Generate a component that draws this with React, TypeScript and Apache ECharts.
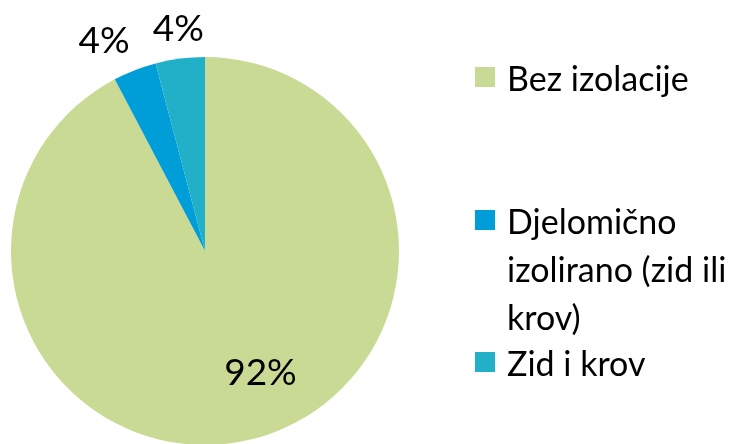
import React, { useEffect, useRef } from "react";
import * as echarts from "echarts";

const categories = ["Bez izolacije", "Djelomično izolirano (zid ili krov)", "Zid i krov"];
const legendTexts = ["Bez izolacije", "\n\nDjelomično\nizolirano (zid ili\nkrov)", "Zid i krov"];
const values = [92.3, 3.6, 4.1];
const percentLabels = ["92%", "4%", "4%"];
const colors = ["#C9DA95", "#009ED8", "#21B0C8"];

const FONT = "Lato";
const CX = 205;
const CY = 251;
const R = 194;

export default function App() {
  const ref = useRef<HTMLDivElement>(null);
  useEffect(() => {
    if (!ref.current) return;
    const chart = echarts.init(ref.current, null, { renderer: "svg" });
    const total = values.reduce((a, b) => a + b, 0);
    const mids: number[] = [];
    let acc = 0;
    values.forEach((v) => {
      const start = 90 - (acc / total) * 360;
      acc += v;
      const end = 90 - (acc / total) * 360;
      mids.push(((start + end) / 2) * (Math.PI / 180));
    });

    const legendTops = [53, 100, 338];
    const legends = categories.map((c, i) => ({
      data: [c],
      left: 475,
      top: legendTops[i],
      orient: "vertical" as const,
      padding: 0,
      icon: "rect",
      itemWidth: 20,
      itemHeight: 20,
      selectedMode: false,
      formatter: () => legendTexts[i],
      textStyle: {
        fontFamily: FONT,
        fontSize: 34,
        color: "#000",
        lineHeight: 48,
        padding: [0, 0, 0, 7],
      },
    }));

    chart.setOption({
      animation: false,
      legend: legends,
      series: [
        {
          type: "pie",
          center: [CX, CY],
          radius: R,
          startAngle: 90,
          clockwise: true,
          data: categories.map((c, i) => ({
            name: c,
            value: values[i],
            itemStyle: { color: colors[i] },
          })),
          itemStyle: { borderWidth: 0 },
          label: {
            show: true,
            position: "inside",
            formatter: (p: any) => percentLabels[p.dataIndex],
            fontFamily: FONT,
            fontSize: 37,
            color: "#000",
          },
          labelLine: { show: false },
          emphasis: { disabled: true },
          labelLayout: (p: any) => {
            const i = p.dataIndex;
            const a = mids[i];
            const frac = values[i] / total;
            if (frac > 0.5) {
              const aa = a + (11 * Math.PI) / 180;
              const d = R * 0.68;
              return {
                x: CX + d * Math.cos(aa),
                y: CY - d * Math.sin(aa),
                align: "center",
                verticalAlign: "middle",
              };
            }
            const d = R + 14;
            const c = Math.cos(a);
            const s = Math.sin(a);
            const align = Math.abs(c) < 0.25 ? "center" : c < 0 ? "right" : "left";
            const verticalAlign = Math.abs(s) < 0.25 ? "middle" : s > 0 ? "bottom" : "top";
            return {
              x: CX + d * c,
              y: CY - d * s,
              align,
              verticalAlign,
            };
          },
        },
      ],
    });
    return () => chart.dispose();
  }, []);
  return (
    <div
      ref={ref}
      style={{ position: "fixed", left: 0, top: 0, width: 736, height: 444 }}
    />
  );
}
